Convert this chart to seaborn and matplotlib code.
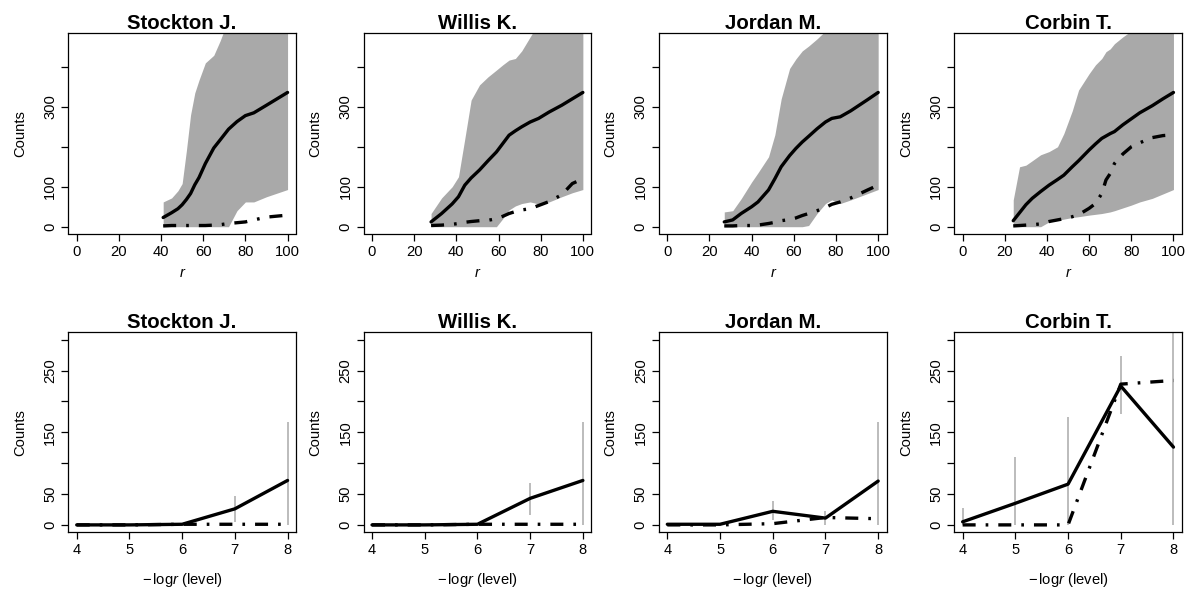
import matplotlib
matplotlib.use('Agg')
import matplotlib.pyplot as plt
import pandas as pd
import seaborn as sns

# players shown in the four columns
players = ['Stockton J.', 'Willis K.', 'Jordan M.', 'Corbin T.']

# top row: counts against r (solid = mean, dash-dot = observed, band = envelope)
stockton_r = [41, 45, 48, 50, 52, 54, 56, 58, 61, 65, 68, 72, 76, 80, 84, 90, 100]
stockton_mean = [23, 35, 45, 55, 68, 83, 105, 123, 158, 197, 217, 244, 263, 278, 285, 304, 336]
stockton_dd = [2, 3, 3, 3, 3, 3, 3, 3, 3, 4, 5, 8, 10, 12, 17, 24, 29]
stockton_lo = [0, 0, 0, 0, 0, 0, 0, 0, 0, 0, 0, 0, 40, 62, 62, 75, 93]
stockton_hi = [62, 72, 90, 108, 190, 280, 335, 367, 410, 429, 465, 520, 560, 600, 620, 650, 700]

willis_r = [28, 33, 38, 41, 44, 47, 51, 55, 59, 62, 65, 68, 71, 75, 79, 84, 90, 95, 100]
willis_mean = [12, 33, 57, 75, 104, 122, 142, 165, 187, 208, 229, 240, 250, 262, 271, 287, 304, 320, 336]
willis_dd = [3, 4, 6, 8, 11, 13, 15, 16, 20, 26, 33, 38, 42, 45, 53, 63, 80, 108, 120]
willis_lo = [0, 0, 0, 0, 0, 0, 0, 0, 0, 20, 42, 52, 58, 62, 57, 62, 75, 85, 93]
willis_hi = [33, 72, 100, 125, 220, 317, 355, 375, 392, 405, 417, 421, 440, 475, 510, 540, 570, 600, 620]

jordan_r = [27, 31, 35, 40, 43, 48, 51, 54, 58, 61, 64, 67, 71, 75, 78, 82, 87, 91, 95, 100]
jordan_mean = [12, 17, 33, 50, 62, 92, 120, 150, 178, 196, 212, 226, 245, 262, 271, 275, 290, 304, 318, 336]
jordan_dd = [2, 2, 3, 3, 4, 8, 11, 15, 18, 22, 28, 33, 40, 48, 56, 62, 72, 82, 92, 104]
jordan_lo = [0, 0, 0, 0, 0, 0, 0, 0, 0, 0, 0, 3, 33, 58, 67, 58, 67, 75, 83, 93]
jordan_hi = [37, 40, 70, 112, 135, 175, 230, 320, 396, 420, 440, 452, 470, 490, 500, 520, 540, 560, 580, 600]

corbin_r = [24, 27, 30, 33, 37, 41, 45, 48, 52, 55, 60, 63, 66, 68, 70, 72, 76, 80, 84, 90, 95, 100]
corbin_mean = [15, 35, 55, 71, 88, 104, 118, 129, 150, 165, 192, 207, 221, 227, 233, 238, 255, 270, 285, 303, 320, 336]
corbin_dd = [2, 3, 4, 5, 7, 13, 17, 20, 25, 30, 46, 58, 83, 117, 133, 158, 182, 200, 210, 223, 228, 230]
corbin_lo = [0, 0, 0, 0, 0, 12, 16, 19, 23, 25, 29, 31, 33, 35, 37, 40, 47, 54, 62, 71, 82, 93]
corbin_hi = [67, 150, 154, 165, 180, 188, 200, 233, 290, 342, 383, 405, 421, 438, 445, 458, 475, 490, 510, 530, 550, 570]

# bottom row: counts by level (-log r)
levels = [4, 5, 6, 7, 8]
stockton_lvl = [0, 0, 1, 26, 72]
stockton_lvl_dd = [0, 0, 1, 1, 1]
stockton_err_lo = [0, 0, 1, 5, 0]
stockton_err_hi = [0, 0, 1, 46, 166]

willis_lvl = [0, 0, 1, 43, 72]
willis_lvl_dd = [0, 0, 1, 1, 1]
willis_err_lo = [0, 0, 1, 16, 0]
willis_err_hi = [0, 0, 1, 68, 166]

jordan_lvl = [1, 1, 22, 11, 71]
jordan_lvl_dd = [0, 0, 2, 12, 10]
jordan_err_lo = [1, 1, 8, 0, 0]
jordan_err_hi = [1, 1, 38, 22, 166]

corbin_lvl = [5, 35, 66, 225, 126]
corbin_lvl_dd = [0, 0, 0, 228, 234]
corbin_err_lo = [0, 0, 0, 180, 0]
corbin_err_hi = [27, 110, 175, 273, 330]

top_data = [
    (stockton_r, stockton_mean, stockton_dd, stockton_lo, stockton_hi),
    (willis_r, willis_mean, willis_dd, willis_lo, willis_hi),
    (jordan_r, jordan_mean, jordan_dd, jordan_lo, jordan_hi),
    (corbin_r, corbin_mean, corbin_dd, corbin_lo, corbin_hi),
]
bottom_data = [
    (stockton_lvl, stockton_lvl_dd, stockton_err_lo, stockton_err_hi),
    (willis_lvl, willis_lvl_dd, willis_err_lo, willis_err_hi),
    (jordan_lvl, jordan_lvl_dd, jordan_err_lo, jordan_err_hi),
    (corbin_lvl, corbin_lvl_dd, corbin_err_lo, corbin_err_hi),
]

sns.set_style('ticks')
plt.rcParams['font.family'] = ['Liberation Sans', 'DejaVu Sans']
plt.rcParams['mathtext.fontset'] = 'custom'
plt.rcParams['mathtext.rm'] = 'Liberation Sans'
plt.rcParams['mathtext.it'] = 'Liberation Sans:italic'
plt.rcParams['text.color'] = 'black'
plt.rcParams['axes.labelcolor'] = 'black'
plt.rcParams['xtick.color'] = 'black'
plt.rcParams['ytick.color'] = 'black'

W, H = 1188, 591
fig = plt.figure(figsize=(W / 100, H / 100), dpi=100)

lefts = [68.3, 363.6, 658.9, 954.2]
dotdash = (0, (3.9, 3, 0.8, 3))
band_col = '#A9A9A9'
lw = 2.4
fs = 10.6


def make_ax(left, top, w=227.7, h=200.2):
    return fig.add_axes([left / W, 1 - (top + h) / H, w / W, h / H])


def style_ax(ax, title):
    for s in ax.spines.values():
        s.set_visible(True)
        s.set_color('black')
        s.set_linewidth(0.9)
    ax.tick_params(direction='out', length=5, width=0.9, color='black',
                   labelsize=fs, labelcolor='black')
    ax.tick_params(axis='y', pad=3)
    ax.tick_params(axis='x', pad=3)
    for t in ax.get_yticklabels():
        t.set_rotation(90)
        t.set_va('center')
    ax.set_title(title, fontsize=14.7, fontweight='bold', pad=3, color='black')
    ax.set_ylabel('Counts', fontsize=fs)
    ax.yaxis.set_label_coords(-48.3 / 227.7, 0.5)
    ax.yaxis.label.set_va('center')


for i, name in enumerate(players):
    r, mean, dd, lo, hi = top_data[i]
    ax = make_ax(lefts[i], 33.3)
    df = pd.DataFrame({'r': r, 'mean': mean, 'dd': dd})
    ax.fill_between(r, lo, hi, color=band_col, lw=0)
    sns.lineplot(data=df, x='r', y='mean', ax=ax, color='black', lw=lw,
                 estimator=None, sort=False)
    sns.lineplot(data=df, x='r', y='dd', ax=ax, color='black', lw=lw,
                 linestyle=dotdash, dash_capstyle='butt',
                 estimator=None, sort=False)
    ax.set_xlim(-4, 104)
    ax.set_ylim(-17, 484)
    ax.set_xticks([0, 20, 40, 60, 80, 100])
    ax.set_yticks([0, 100, 200, 300, 400])
    ax.set_yticklabels(['0', '100', '', '300', ''])
    style_ax(ax, name)
    ax.set_xlabel('r', style='italic', fontsize=fs)
    ax.xaxis.set_label_coords(0.5, -(273 - 233.5) / 200.2)
    ax.xaxis.label.set_va('center')

for i, name in enumerate(players):
    vals, dd, elo, ehi = bottom_data[i]
    ax = make_ax(lefts[i], 332.3, h=200)
    ax.vlines(levels, elo, ehi, color=band_col, lw=1.1)
    df = pd.DataFrame({'level': levels, 'count': vals, 'dd': dd})
    sns.lineplot(data=df, x='level', y='dd', ax=ax, color='black', lw=lw,
                 linestyle=dotdash, dash_capstyle='butt',
                 estimator=None, sort=False)
    sns.lineplot(data=df, x='level', y='count', ax=ax, color='black', lw=lw,
                 estimator=None, sort=False)
    ax.set_xlim(3.84, 8.16)
    ax.set_ylim(-12, 312)
    ax.set_xticks(levels)
    ax.set_yticks([0, 50, 100, 150, 200, 250, 300])
    ax.set_yticklabels(['0', '50', '', '150', '', '250', ''])
    style_ax(ax, name)
    ax.set_xlabel(r'$-\,\mathrm{log}\mathit{r}$ (level)', fontsize=fs)
    ax.xaxis.set_label_coords(0.5, -(580 - 532.3) / 200)
    ax.xaxis.label.set_va('center')

fig.savefig('out.png', dpi=100)
